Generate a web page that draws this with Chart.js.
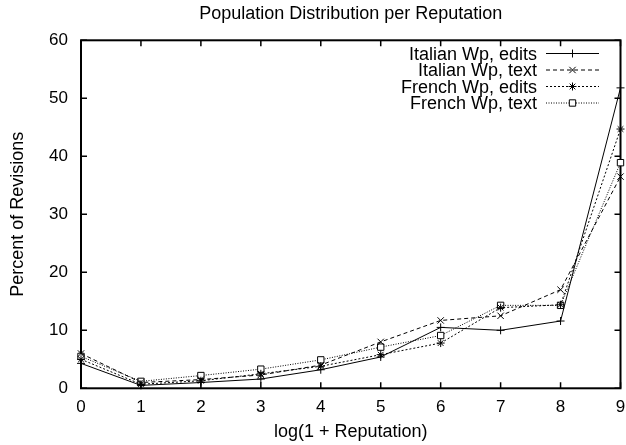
<!DOCTYPE html>
<html>
<head>
<meta charset="utf-8">
<script src="https://cdn.jsdelivr.net/npm/chart.js@4.4.0/dist/chart.umd.min.js"></script>
<style>
  html, body { margin: 0; padding: 0; background: #fff; }
</style>
</head>
<body>
<canvas id="chart" width="626" height="445"></canvas>
<script>
// values
const reputation = [0, 1, 2, 3, 4, 5, 6, 7, 8, 9];
const italianEdits = [4.3, 0.5, 1.0, 1.6, 3.2, 5.4, 10.5, 10.0, 11.6, 51.8];
const italianText = [6.0, 1.0, 1.5, 2.3, 4.0, 8.0, 11.7, 12.5, 17.0, 36.5];
const frenchEdits = [5.0, 0.7, 1.3, 2.5, 3.8, 5.8, 7.8, 13.9, 14.4, 44.7];
const frenchText = [5.5, 1.2, 2.2, 3.3, 4.9, 7.1, 9.1, 14.3, 14.3, 38.9];
const yTicks = [0, 10, 20, 30, 40, 50, 60];

const FONT = '"Liberation Sans", Arial, sans-serif';

const series = [
  { label: 'Italian Wp, edits', data: italianEdits, dash: [], point: 'cross', r: 4 },
  { label: 'Italian Wp, text', data: italianText, dash: [4, 3], point: 'crossRot', r: 4.5 },
  { label: 'French Wp, edits', data: frenchEdits, dash: [2, 2], point: 'star', r: 4 },
  { label: 'French Wp, text', data: frenchText, dash: [1, 1.5], point: 'rect', r: 4.5 }
];

// gnuplot style box with inward ticks on all four sides
const frameTicks = {
  id: 'frameTicks',
  beforeDatasetsDraw(chart) {
    const { ctx, chartArea: a, scales } = chart;
    ctx.save();
    ctx.strokeStyle = '#000';
    ctx.lineWidth = 1.5;
    ctx.beginPath();
    reputation.forEach(v => {
      const x = scales.x.getPixelForValue(v);
      ctx.moveTo(x, a.bottom); ctx.lineTo(x, a.bottom - 6);
      ctx.moveTo(x, a.top); ctx.lineTo(x, a.top + 6);
    });
    yTicks.forEach(v => {
      const y = scales.y.getPixelForValue(v);
      ctx.moveTo(a.left, y); ctx.lineTo(a.left + 6, y);
      ctx.moveTo(a.right, y); ctx.lineTo(a.right - 6, y);
    });
    ctx.stroke();
    ctx.lineWidth = 2;
    ctx.strokeRect(a.left, a.top, a.right - a.left, a.bottom - a.top);
    ctx.restore();
  }
};

// key in the top right corner: text right aligned, sample to its right
const keyBox = {
  id: 'keyBox',
  afterDatasetsDraw(chart) {
    const ctx = chart.ctx;
    ctx.save();
    ctx.font = '18px ' + FONT;
    ctx.textAlign = 'right';
    ctx.textBaseline = 'alphabetic';
    series.forEach((s, i) => {
      const yc = 53.5 + i * 16.5;
      ctx.fillStyle = '#000';
      ctx.fillText(s.label, 537, yc + 6.3);
      ctx.strokeStyle = '#000';
      ctx.lineWidth = 1;
      ctx.setLineDash(s.dash);
      ctx.beginPath();
      ctx.moveTo(546, yc);
      ctx.lineTo(599, yc);
      ctx.stroke();
      ctx.setLineDash([]);
      ctx.fillStyle = '#fff';
      Chart.helpers.drawPoint(ctx, { pointStyle: s.point, radius: s.r, rotation: 0, borderWidth: 1 }, 572.5, yc);
    });
    ctx.restore();
  }
};

new Chart(document.getElementById('chart'), {
  type: 'line',
  data: {
    datasets: series.map(s => ({
      label: s.label,
      data: s.data.map((v, i) => ({ x: reputation[i], y: v })),
      borderColor: '#000',
      backgroundColor: '#fff',
      borderWidth: 1,
      borderDash: s.dash,
      pointStyle: s.point,
      pointRadius: s.r,
      pointBorderWidth: 1,
      pointBorderColor: '#000',
      pointBackgroundColor: '#fff',
      tension: 0,
      fill: false,
      clip: false
    }))
  },
  options: {
    responsive: false,
    animation: false,
    layout: { padding: { left: 0, right: 5, top: 0, bottom: 0 } },
    plugins: {
      legend: { display: false },
      tooltip: { enabled: false },
      title: {
        display: true,
        text: 'Population Distribution per Reputation',
        fullSize: false,
        color: '#000',
        font: { family: FONT, size: 18, weight: 'normal' },
        padding: { top: 3, bottom: 15.7 }
      }
    },
    scales: {
      x: {
        type: 'linear',
        min: 0,
        max: 9,
        afterBuildTicks: s => { s.ticks = reputation.map(v => ({ value: v })); },
        afterFit: s => { s.height = 56.7; s.paddingLeft = 0; s.paddingRight = 0; },
        grid: { display: false, drawTicks: false },
        border: { display: false },
        ticks: { color: '#000', font: { family: FONT, size: 17 }, padding: 9, maxRotation: 0, autoSkip: false },
        title: {
          display: true,
          text: 'log(1 + Reputation)',
          color: '#000',
          font: { family: FONT, size: 18 },
          padding: { top: 0, bottom: 2.5 }
        }
      },
      y: {
        min: 0,
        max: 60,
        afterBuildTicks: s => { s.ticks = yTicks.map(v => ({ value: v })); },
        afterFit: s => { s.width = 81; s.paddingTop = 0; s.paddingBottom = 0; },
        grid: { display: false, drawTicks: false },
        border: { display: false },
        ticks: { color: '#000', font: { family: FONT, size: 17 }, padding: 13 },
        title: {
          display: true,
          text: 'Percent of Revisions',
          color: '#000',
          font: { family: FONT, size: 18 },
          padding: { top: 7.2, bottom: 0 }
        }
      }
    }
  },
  plugins: [frameTicks, keyBox]
});
</script>
</body>
</html>
